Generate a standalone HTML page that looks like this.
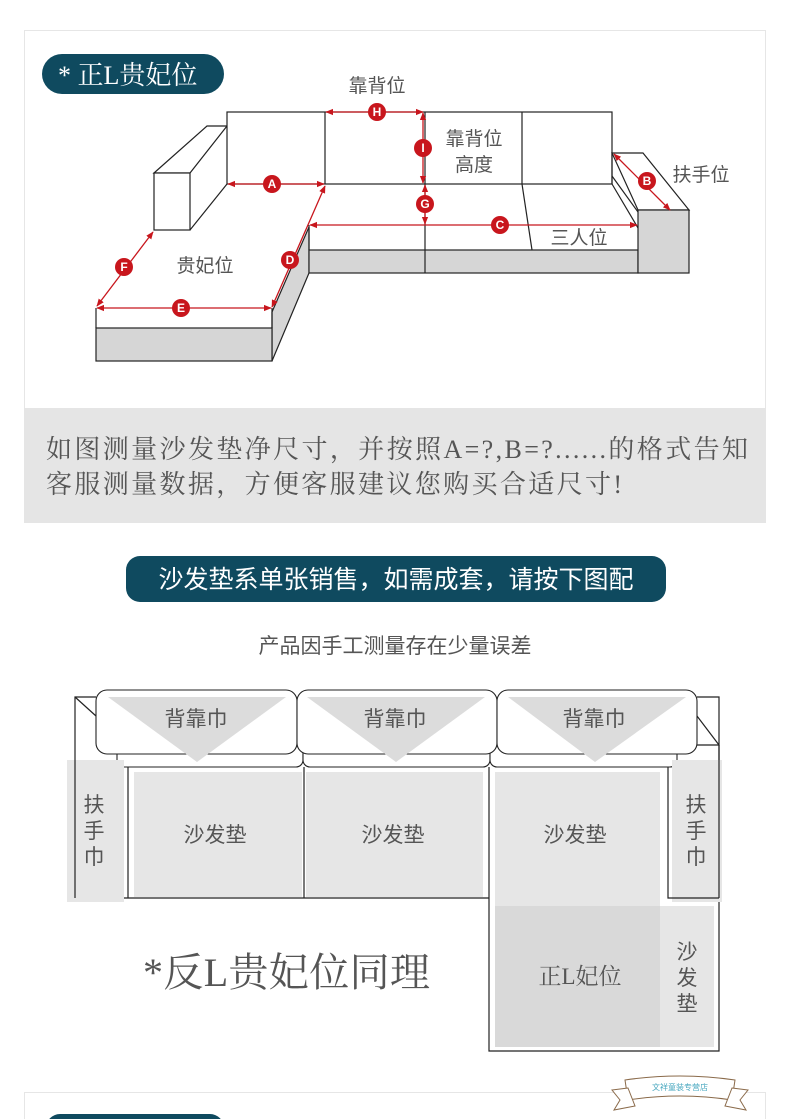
<!DOCTYPE html>
<html><head><meta charset="utf-8"><style>
body{margin:0;background:#fff;}
svg{display:block;}
text{font-family:"Liberation Sans","Noto Sans CJK SC",sans-serif;}
.s{font-family:"Liberation Serif","Noto Serif CJK SC",serif;}
</style></head><body>
<svg width="790" height="1119" viewBox="0 0 790 1119" xmlns="http://www.w3.org/2000/svg">
<defs>
<marker id="ar" viewBox="0 0 10 10" refX="9" refY="5" markerWidth="6" markerHeight="6" orient="auto-start-reverse"><path d="M0,1 L10,5 L0,9 z" fill="#c8161d"/></marker>
</defs>
<!-- top box -->
<rect x="24.5" y="30.5" width="741" height="492" fill="#fff" stroke="#e6e6e6"/>
<rect x="24" y="408" width="742" height="115" fill="#e5e5e5"/>
<text x="46" y="458" font-size="26" fill="#555" class="s" textLength="702" lengthAdjust="spacing">如图测量沙发垫净尺寸，并按照A=?,B=?......的格式告知</text>
<text x="46" y="493" font-size="26" fill="#555" class="s" textLength="576" lengthAdjust="spacing">客服测量数据，方便客服建议您购买合适尺寸!</text>
<rect x="42" y="54" width="182" height="40" rx="20" fill="#0f4a5f"/>
<text x="58" y="84" font-size="26" fill="#fff" class="s">* 正L贵妃位</text>

<g stroke="#222" stroke-width="1.2" fill="#fff">
<polygon points="272,312 309,227 309,273 272,361" fill="#d6d6d6"/>
<rect x="96" y="328" width="176" height="33" fill="#d6d6d6"/>
<line x1="96" y1="308" x2="96" y2="328"/>
<line x1="272" y1="308" x2="272" y2="328"/>
<polygon points="154,173 207,126 227,126 190,173"/>
<rect x="154" y="173" width="36" height="57"/>
<line x1="227" y1="184" x2="190" y2="230"/>
<rect x="227" y="112" width="385" height="72"/>
<line x1="325" y1="112" x2="325" y2="184"/>
<line x1="425" y1="112" x2="425" y2="184"/>
<line x1="522" y1="112" x2="522" y2="184"/>
<line x1="309" y1="225" x2="309" y2="250"/>
<rect x="309" y="250" width="329" height="23" fill="#d6d6d6"/>
<line x1="425" y1="184" x2="425" y2="273"/>
<line x1="522" y1="184" x2="532" y2="250"/>
<polygon points="612,153 643,153 689,210 638,210"/>
<rect x="638" y="210" width="51" height="63" fill="#d6d6d6"/>
<line x1="612" y1="153" x2="612" y2="184"/>
<line x1="612" y1="184" x2="638" y2="228"/>
<line x1="612" y1="176" x2="638" y2="212"/>
</g>
<g stroke="#c8161d" stroke-width="1.3" marker-start="url(#ar)" marker-end="url(#ar)">
<line x1="326" y1="112" x2="423" y2="112"/>
<line x1="423" y1="113" x2="423" y2="183"/>
<line x1="425" y1="185" x2="425" y2="224"/>
<line x1="310" y1="225" x2="637" y2="225"/>
<line x1="228" y1="184" x2="324" y2="184"/>
<line x1="325" y1="186" x2="272" y2="307"/>
<line x1="97" y1="308" x2="271" y2="308"/>
<line x1="97" y1="306" x2="153" y2="232"/>
<line x1="614" y1="154" x2="670" y2="210"/>
</g>
<g fill="#c8161d">
<circle cx="377" cy="112" r="9"/><circle cx="423" cy="148" r="9"/><circle cx="425" cy="204" r="9"/>
<circle cx="500" cy="225" r="9"/><circle cx="272" cy="184" r="9"/><circle cx="290" cy="260" r="9"/>
<circle cx="181" cy="308" r="9"/><circle cx="124" cy="267" r="9"/><circle cx="647" cy="181" r="9"/>
</g>
<g fill="#fff" font-size="12" font-weight="bold" text-anchor="middle">
<text x="377" y="116">H</text><text x="423" y="152">I</text><text x="425" y="208">G</text>
<text x="500" y="229">C</text><text x="272" y="188">A</text><text x="290" y="264">D</text>
<text x="181" y="312">E</text><text x="124" y="271">F</text><text x="647" y="185">B</text>
</g>
<g fill="#555" font-size="19" text-anchor="middle">
<text x="377" y="92">靠背位</text>
<text x="474" y="145">靠背位</text><text x="474" y="171">高度</text>
<text x="701" y="181">扶手位</text>
<text x="579" y="244">三人位</text>
<text x="205" y="272">贵妃位</text>
</g>

<rect x="126" y="556" width="540" height="46" rx="14" fill="#0f4a5f"/>
<text x="396" y="588" font-size="25" fill="#fff" text-anchor="middle">沙发垫系单张销售，如需成套，请按下图配</text>
<text x="395" y="653" font-size="21" fill="#555" text-anchor="middle">产品因手工测量存在少量误差</text>

<g stroke="#222" stroke-width="1.2" fill="none">
<polyline points="96,697 75,697 75,898 489,898"/>
<line x1="75" y1="697" x2="96" y2="716"/>
<polyline points="697,697 719,697 719,745 697,745"/>
<line x1="697" y1="716" x2="719" y2="745"/>
<polyline points="489,767 489,1051 719,1051 719,745"/>
</g>
<g stroke="#222" stroke-width="1.1" fill="#fff">
<rect x="117" y="730" width="186" height="37" rx="7"/>
<rect x="303" y="730" width="187" height="37" rx="7"/>
<rect x="490" y="730" width="187" height="37" rx="7"/>
</g>
<rect x="67" y="760" width="57" height="142" fill="#e6e6e6"/>
<line x1="75" y1="760" x2="75" y2="898" stroke="#222" stroke-width="1.2"/>
<line x1="128" y1="767" x2="128" y2="898" stroke="#222" stroke-width="1.2"/>
<rect x="672" y="760" width="50" height="142" fill="#e6e6e6"/>
<polyline points="668,767 668,898 719,898" fill="none" stroke="#222" stroke-width="1.2"/>
<line x1="719" y1="745" x2="719" y2="898" stroke="#222" stroke-width="1.2"/>
<rect x="134" y="772" width="168" height="125" fill="#e6e6e6"/>
<line x1="304" y1="767" x2="304" y2="898" stroke="#222" stroke-width="1.2"/>
<rect x="306" y="772" width="177" height="125" fill="#e6e6e6"/>
<rect x="495" y="772" width="165" height="134" fill="#e6e6e6"/>
<rect x="495" y="906" width="165" height="141" fill="#d9d9d9"/>
<rect x="660" y="906" width="54" height="141" fill="#e6e6e6"/>
<g stroke="#222" stroke-width="1.1" fill="#fff">
<rect x="96" y="690" width="201" height="64" rx="11"/>
<rect x="297" y="690" width="200" height="64" rx="11"/>
<rect x="497" y="690" width="200" height="64" rx="11"/>
</g>
<g fill="#dcdcdc">
<polygon points="108,697 286,697 197,762"/>
<polygon points="307,697 485,697 396,762"/>
<polygon points="508,697 686,697 595,762"/>
</g>
<g fill="#555" font-size="21" text-anchor="middle">
<text x="196" y="726">背靠巾</text><text x="395" y="726">背靠巾</text><text x="594" y="726">背靠巾</text>
<text x="215" y="842">沙发垫</text><text x="393" y="842">沙发垫</text><text x="575" y="842">沙发垫</text>
<text x="94" y="812">扶</text><text x="94" y="838">手</text><text x="94" y="864">巾</text>
<text x="696" y="812">扶</text><text x="696" y="838">手</text><text x="696" y="864">巾</text>
<text x="687" y="959">沙</text><text x="687" y="985">发</text><text x="687" y="1011">垫</text>
<text x="580" y="984" class="s" font-size="23">正L妃位</text>
</g>
<text x="143" y="986" font-size="40" fill="#555" class="s" textLength="287" lengthAdjust="spacing">*反L贵妃位同理</text>

<line x1="24" y1="1092.5" x2="766" y2="1092.5" stroke="#e6e6e6"/>
<line x1="24.5" y1="1092" x2="24.5" y2="1119" stroke="#e6e6e6"/>
<line x1="765.5" y1="1092" x2="765.5" y2="1119" stroke="#e6e6e6"/>
<rect x="46" y="1114" width="178" height="30" rx="14" fill="#0f4a5f"/>
<g>
<path d="M625,1080 Q680,1072 735,1080 L732,1100 Q680,1092 628,1100 z" fill="#fff" stroke="#8a6a4a" stroke-width="1"/>
<path d="M628,1088 L612,1090 L620,1100 L614,1110 L635,1106 z" fill="#fff" stroke="#8a6a4a" stroke-width="1"/>
<path d="M732,1088 L748,1090 L740,1100 L746,1110 L725,1106 z" fill="#fff" stroke="#8a6a4a" stroke-width="1"/>
<text x="680" y="1090" font-size="8" fill="#4aa8c0" text-anchor="middle">文祥童装专营店</text>
</g>
</svg>
</body></html>
